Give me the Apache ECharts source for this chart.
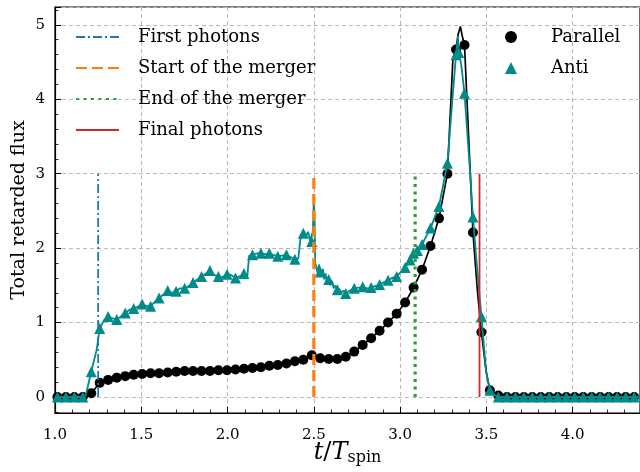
<!DOCTYPE html>
<html>
<head>
<meta charset="utf-8">
<script src="https://cdn.jsdelivr.net/npm/echarts@6/dist/echarts.min.js"></script>
<style>
  html, body { margin: 0; padding: 0; background: #fff; }
  #chart { width: 640px; height: 472px; }
</style>
</head>
<body>
<div id="chart"></div>
<script>
// Sample times (t / T_spin) at which markers are drawn
const sampleTimes = [
  1.014, 1.063, 1.112, 1.161, 1.210, 1.259, 1.308, 1.358, 1.407, 1.456,
  1.505, 1.554, 1.603, 1.653, 1.702, 1.751, 1.800, 1.849, 1.898, 1.947,
  1.997, 2.046, 2.095, 2.144, 2.193, 2.242, 2.291, 2.341, 2.390, 2.439,
  2.488, 2.537, 2.586, 2.636, 2.685, 2.734, 2.783, 2.832, 2.881, 2.930,
  2.980, 3.029, 3.078, 3.127, 3.176, 3.225, 3.274, 3.324, 3.373, 3.422,
  3.471, 3.520, 3.569, 3.619, 3.668, 3.717, 3.766, 3.815, 3.864, 3.913,
  3.963, 4.012, 4.061, 4.110, 4.159, 4.208, 4.257, 4.307, 4.356, 4.405
];

// Parallel spins: flux at the marker times
const parallelValues = [
  0.00, 0.00, 0.00, 0.00, 0.05, 0.19, 0.23, 0.26, 0.28, 0.30,
  0.31, 0.32, 0.32, 0.33, 0.34, 0.35, 0.35, 0.35, 0.35, 0.36,
  0.36, 0.37, 0.38, 0.39, 0.40, 0.42, 0.43, 0.45, 0.48, 0.50,
  0.56, 0.52, 0.51, 0.51, 0.54, 0.61, 0.70, 0.79, 0.89, 1.00,
  1.12, 1.27, 1.47, 1.71, 2.03, 2.40, 3.00, 4.67, 4.73, 2.21,
  0.87, 0.09, 0.02, 0.00, 0.00, 0.00, 0.00, 0.00, 0.00, 0.00,
  0.00, 0.00, 0.00, 0.00, 0.00, 0.00, 0.00, 0.00, 0.00, 0.00
];
// Parallel spins: extra samples of the full-resolution curve between markers
const parallelDetailTimes  = [1.185, 1.235, 3.306, 3.335, 3.349, 3.360, 3.447, 3.498];
const parallelDetailValues = [0.01, 0.12, 4.55, 4.86, 4.98, 4.85, 1.45, 0.35];

// Anti-aligned spins: flux at the marker times
const antiValues = [
  0.00, 0.00, 0.00, 0.00, 0.34, 0.92, 1.08, 1.04, 1.13, 1.19,
  1.25, 1.22, 1.33, 1.43, 1.42, 1.46, 1.54, 1.62, 1.70, 1.62,
  1.65, 1.60, 1.66, 1.91, 1.93, 1.93, 1.89, 1.91, 1.85, 2.20,
  2.09, 1.68, 1.58, 1.44, 1.39, 1.46, 1.48, 1.47, 1.51, 1.57,
  1.62, 1.74, 1.93, 2.05, 2.27, 2.56, 3.14, 4.60, 4.08, 2.42,
  1.08, 0.09, 0.00, 0.00, 0.00, 0.00, 0.00, 0.00, 0.00, 0.00,
  0.00, 0.00, 0.00, 0.00, 0.00, 0.00, 0.00, 0.00, 0.00, 0.00
];
// Anti-aligned spins: additional markers
const antiExtraMarkTimes  = [3.058, 3.100, 3.340];
const antiExtraMarkValues = [1.84, 1.97, 4.63];
// Anti-aligned spins: extra samples of the full-resolution curve
const antiDetailTimes = [
  1.178, 1.241, 1.283, 1.330, 1.380, 1.430, 1.480, 1.530, 1.580, 1.630,
  1.675, 1.725, 1.775, 1.825, 1.875, 1.920, 1.970, 2.020, 2.070, 2.115,
  2.125, 2.170, 2.220, 2.265, 2.315, 2.365, 2.410, 2.422, 2.455, 2.467,
  2.478, 2.494, 2.500, 2.504, 2.508, 2.515, 2.522, 2.530, 2.545, 2.552,
  2.560, 2.568, 2.575, 2.595, 2.605, 2.615, 2.625, 2.648, 2.660, 2.672,
  2.710, 2.760, 2.810, 2.855, 2.905, 2.955, 3.005, 3.296, 3.335, 3.355,
  3.400, 3.447, 3.498, 3.545
];
const antiDetailValues = [
  0.02, 0.63, 1.03, 1.06, 1.08, 1.17, 1.21, 1.22, 1.28, 1.38,
  1.40, 1.46, 1.49, 1.58, 1.66, 1.64, 1.61, 1.64, 1.62, 1.63,
  1.90, 1.93, 1.92, 1.91, 1.90, 1.88, 1.86, 2.12, 2.16, 2.22,
  2.10, 2.22, 2.65, 2.45, 1.80, 1.74, 1.66, 1.78, 1.62, 1.72,
  1.58, 1.66, 1.54, 1.50, 1.56, 1.46, 1.50, 1.45, 1.40, 1.43,
  1.43, 1.47, 1.46, 1.49, 1.54, 1.60, 1.68, 3.80, 4.85, 4.45,
  3.20, 1.70, 0.35, 0.03
];

// Event markers (vertical lines from 0 to eventHeight)
const eventNames = ['First photons', 'Start of the merger', 'End of the merger', 'Final photons'];
const eventTimes = [1.25, 2.5, 3.087, 3.46];
const eventHeight = 3;

// Axis ranges and ticks
const xRange = [1.0, 4.39];
const xTickStep = 0.5;
const yRange = [-0.215, 5.24];

const FONT = '"DejaVu Serif", serif';
const TEAL = '#008b8b';

function pairs(ts, vs) { return ts.map((t, i) => [t, vs[i]]); }
function byTime(a, b) { return a[0] - b[0]; }

const parallelMarks = pairs(sampleTimes, parallelValues);
const parallelCurve = parallelMarks.concat(pairs(parallelDetailTimes, parallelDetailValues)).sort(byTime);
const antiMarks = pairs(sampleTimes, antiValues).concat(pairs(antiExtraMarkTimes, antiExtraMarkValues)).sort(byTime);
const antiCurve = pairs(sampleTimes, antiValues)
  .concat(pairs(antiExtraMarkTimes, antiExtraMarkValues))
  .concat(pairs(antiDetailTimes, antiDetailValues)).sort(byTime);

const eventStyles = [
  { color: '#1f77b4', width: 1.8, type: [9, 3, 2, 3] },
  { color: '#ff7f0e', width: 3.2, type: [11, 5] },
  { color: '#2ca02c', width: 3.2, type: [3, 4.5] },
  { color: '#d62728', width: 1.8, type: 'solid' }
];

const eventSeries = eventNames.map((name, i) => ({
  name: name,
  type: 'line',
  data: [[eventTimes[i], 0], [eventTimes[i], eventHeight]],
  symbol: 'none',
  showSymbol: false,
  lineStyle: eventStyles[i],
  itemStyle: { color: eventStyles[i].color },
  z: 6,
  silent: true
}));

const gridLine = { show: true, lineStyle: { color: '#b8b8b8', type: [4, 3], width: 1 } };

const chart = echarts.init(document.getElementById('chart'), null, { renderer: 'canvas' });
chart.setOption({
  animation: false,
  backgroundColor: '#fff',
  grid: {
    left: 55, right: 0, top: 7, bottom: 59,
    containLabel: false, outerBoundsMode: 'none',
    show: true, borderColor: '#000', borderWidth: 1.2, backgroundColor: 'transparent'
  },
  legend: [
    {
      orient: 'vertical', left: 70, top: 22,
      itemWidth: 43, itemHeight: 14, itemGap: 11,
      selectedMode: false,
      data: eventNames,
      itemStyle: { opacity: 0, borderWidth: 0 },
      textStyle: { fontFamily: FONT, fontSize: 18, color: '#000', lineHeight: 20, padding: [0, 0, 0, 14] }
    },
    {
      orient: 'vertical', left: 500, top: 22,
      itemWidth: 12, itemHeight: 12, itemGap: 11,
      selectedMode: false,
      data: [{ name: 'Parallel', icon: 'circle' }, { name: 'Anti', icon: 'triangle' }],
      textStyle: { fontFamily: FONT, fontSize: 18, color: '#000', lineHeight: 20, padding: [0, 0, 0, 29] }
    }
  ],
  xAxis: {
    type: 'value',
    min: xRange[0], max: xRange[1], interval: xTickStep,
    name: '{it|t}{n|/}{it|T}{sub|spin}',
    nameLocation: 'middle', nameGap: 26, nameMoveOverlap: false,
    nameTextStyle: {
      rich: {
        it: { fontFamily: FONT, fontStyle: 'italic', fontSize: 24, color: '#000' },
        n: { fontFamily: FONT, fontSize: 24, color: '#000' },
        sub: { fontFamily: FONT, fontSize: 16, color: '#000', padding: [11, 0, 0, 0] }
      }
    },
    axisLine: { show: true, onZero: false, lineStyle: { color: '#000', width: 1.2 } },
    axisTick: { show: true, inside: true, length: 6, lineStyle: { color: '#000', width: 1 } },
    minorTick: { show: true, splitNumber: 5, length: 3.5, lineStyle: { color: '#000', width: 0.8 } },
    axisLabel: {
      fontFamily: FONT, fontSize: 15, color: '#000', margin: 15,
      formatter: v => (Math.abs(v / xTickStep - Math.round(v / xTickStep)) < 1e-6 && v < xRange[1] - 1e-6) ? v.toFixed(1) : ''
    },
    splitLine: gridLine
  },
  yAxis: {
    type: 'value',
    min: yRange[0], max: yRange[1], splitNumber: 5,
    name: 'Total retarded flux',
    nameLocation: 'middle', nameGap: 26, nameMoveOverlap: false,
    nameTextStyle: { fontFamily: FONT, fontSize: 19, color: '#000' },
    axisLine: { show: true, onZero: false, lineStyle: { color: '#000', width: 1.2 } },
    axisTick: { show: true, inside: true, length: 6, lineStyle: { color: '#000', width: 1 } },
    minorTick: { show: true, splitNumber: 5, length: 3.5, lineStyle: { color: '#000', width: 0.8 } },
    axisLabel: {
      fontFamily: FONT, fontSize: 15, color: '#000', margin: 10,
      showMinLabel: false, showMaxLabel: false,
      formatter: v => Math.abs(v - Math.round(v)) < 1e-6 ? String(Math.round(v)) : ''
    },
    splitLine: gridLine
  },
  series: [
    {
      name: 'parallel-curve', type: 'line', data: parallelCurve,
      symbol: 'none', showSymbol: false, clip: true, silent: true,
      lineStyle: { color: '#000', width: 1.7 }, z: 2
    },
    {
      name: 'Parallel', type: 'scatter', data: parallelMarks,
      symbol: 'circle', symbolSize: 10, clip: true,
      itemStyle: { color: '#000', opacity: 1 }, z: 3
    },
    {
      name: 'anti-curve', type: 'line', data: antiCurve,
      symbol: 'none', showSymbol: false, clip: true, silent: true,
      lineStyle: { color: TEAL, width: 1.8 }, z: 4
    },
    {
      name: 'Anti', type: 'scatter', data: antiMarks,
      symbol: 'triangle', symbolSize: 11, clip: true,
      itemStyle: { color: TEAL, opacity: 1 }, z: 5
    }
  ].concat(eventSeries)
});
</script>
</body>
</html>
